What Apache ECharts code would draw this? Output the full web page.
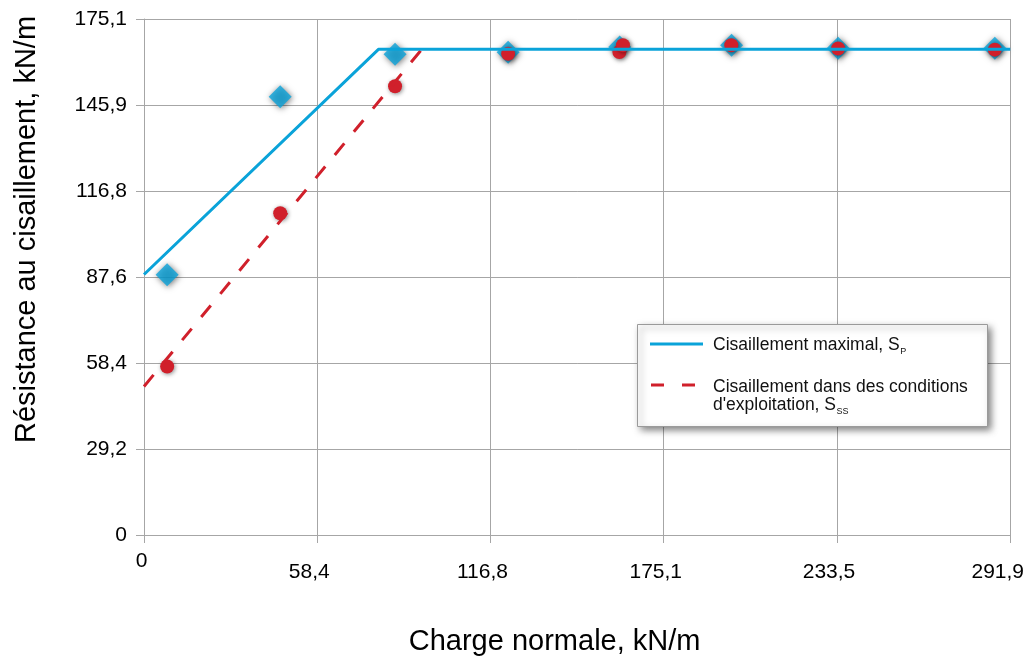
<!DOCTYPE html>
<html>
<head>
<meta charset="utf-8">
<script src="https://cdn.jsdelivr.net/npm/echarts@6/dist/echarts.min.js"></script>
<style>
  html, body { margin: 0; padding: 0; background: #fff; }
  #chart { width: 1027px; height: 661px; }
</style>
</head>
<body>
<div id="chart"></div>
<script>
// Axis tick labels (kN/m)
const xTickLabels = ['0', '58,4', '116,8', '175,1', '233,5', '291,9'];
const yTickLabels = ['0', '29,2', '58,4', '87,6', '116,8', '145,9', '175,1'];

// Axis extents (kN/m)
const xMax = 291.9;
const yMax = 175.1;

// Measured shear resistance, peak (S_P) : [normal load, shear]
const peakPoints = [
  [7.8, 88.3], [45.9, 148.7], [84.6, 163.1], [122.7, 163.8],
  [160.3, 165.6], [198.0, 166.2], [233.9, 165.2], [286.7, 165.2]
];

// Measured shear resistance, serviceability (S_SS) : [normal load, shear]
const servicePoints = [
  [7.8, 57.2], [45.9, 109.2], [84.6, 152.3], [122.7, 163.3],
  [160.2, 163.9], [161.4, 166.2], [197.9, 166.2], [233.9, 165.1], [286.7, 164.7]
];

// Design envelopes (the serviceability line joins the peak plateau at its corner)
const peakEnvelope = [[0, 88.4], [79.0, 164.8], [291.9, 164.8]];
const serviceEnvelope = [[0, 50.4], [93.6, 164.8]];

const peakName = 'Cisaillement maximal, SP';
const serviceName = "Cisaillement dans des conditions d'exploitation, SSS";

const BLUE = '#0aa3d9';
const RED = '#d0202b';
const GRID = '#a6a6a6';
const TEXT = '#000';
const FONT = "'Liberation Sans', Arial, Helvetica, sans-serif";

const chart = echarts.init(document.getElementById('chart'), null, { renderer: 'canvas' });

// Legend box drawn with graphic elements so the two-line entry lines up with its key
const legendBox = { x: 637, y: 324, w: 350, h: 102 };
const legendFont = 17.5;
const subFont = 9;

function legendText(x, y, rich) {
  return {
    type: 'text',
    x: x,
    y: y,
    z: 101,
    silent: true,
    style: {
      text: rich,
      fontFamily: FONT,
      fontSize: legendFont,
      fill: '#111',
      verticalAlign: 'middle',
      align: 'left',
      rich: {
        a: { fontFamily: FONT, fontSize: legendFont, fill: '#111', color: '#111' },
        s: { fontFamily: FONT, fontSize: subFont, fill: '#111', color: '#111', verticalAlign: 'top', lineHeight: 10, padding: [11, 0, 0, 0.5] }
      }
    }
  };
}

chart.setOption({
  backgroundColor: '#ffffff',
  animation: false,
  textStyle: { fontFamily: FONT },
  grid: { left: 144, right: 16, top: 19, bottom: 122, containLabel: false },
  xAxis: {
    type: 'value',
    min: 0,
    max: xMax,
    interval: xMax / 5,
    name: 'Charge normale, kN/m',
    nameLocation: 'middle',
    nameGap: 92,
    nameTextStyle: { fontFamily: FONT, fontSize: 29, color: TEXT, padding: [0, 45, 0, 0] },
    axisLine: { show: true, lineStyle: { color: GRID, width: 1 } },
    axisTick: { show: true, length: 8, lineStyle: { color: GRID, width: 1 } },
    splitLine: { show: true, lineStyle: { color: GRID, width: 1 } },
    axisLabel: {
      margin: 16,
      fontFamily: FONT,
      fontSize: 21,
      color: TEXT,
      formatter: function (value, index) {
        const t = xTickLabels[index] !== undefined ? xTickLabels[index] : '';
        if (index === 0) return '{z|' + t + '}';
        if (index === xTickLabels.length - 1) return '{e|' + t + '}';
        return '{n|' + t + '}';
      },
      rich: {
        z: { fontFamily: FONT, fontSize: 21, color: TEXT, padding: [0, 5, 0, 0] },
        n: { fontFamily: FONT, fontSize: 21, color: TEXT, padding: [11, 16, 0, 0] },
        e: { fontFamily: FONT, fontSize: 21, color: TEXT, padding: [11, 25, 0, 0] }
      }
    }
  },
  yAxis: {
    type: 'value',
    min: 0,
    max: yMax,
    interval: yMax / 6,
    name: 'Résistance au cisaillement, kN/m',
    nameLocation: 'middle',
    nameGap: 103,
    nameTextStyle: { fontFamily: FONT, fontSize: 29, color: TEXT, padding: [0, 0, 0, 95] },
    axisLine: { show: true, lineStyle: { color: GRID, width: 1 } },
    axisTick: { show: true, length: 8, lineStyle: { color: GRID, width: 1 } },
    splitLine: { show: true, lineStyle: { color: GRID, width: 1 } },
    axisLabel: {
      margin: 17,
      fontFamily: FONT,
      fontSize: 21,
      color: TEXT,
      formatter: function (value, index) {
        return yTickLabels[index] !== undefined ? yTickLabels[index] : '';
      }
    }
  },
  legend: { show: false },
  graphic: [
    {
      type: 'rect',
      z: 100,
      silent: true,
      shape: { x: legendBox.x + 0.5, y: legendBox.y + 0.5, width: legendBox.w, height: legendBox.h },
      style: {
        fill: '#ffffff',
        stroke: '#9a9a9a',
        lineWidth: 1,
        shadowBlur: 7,
        shadowColor: 'rgba(0,0,0,0.5)',
        shadowOffsetX: 3,
        shadowOffsetY: 3
      }
    },
    {
      type: 'line',
      z: 101,
      silent: true,
      shape: { x1: legendBox.x + 13, y1: 344, x2: legendBox.x + 66, y2: 344 },
      style: { stroke: BLUE, lineWidth: 3 }
    },
    {
      type: 'line',
      z: 101,
      silent: true,
      shape: { x1: legendBox.x + 14, y1: 385, x2: legendBox.x + 62, y2: 385 },
      style: { stroke: RED, lineWidth: 3, lineDash: [13, 18] }
    },
    legendText(legendBox.x + 76, 345, '{a|Cisaillement maximal, S}{s|P}'),
    legendText(legendBox.x + 76, 387, '{a|Cisaillement dans des conditions}'),
    legendText(legendBox.x + 76, 405.5, "{a|d'exploitation, S}{s|SS}")
  ],
  series: [
    {
      name: serviceName,
      type: 'line',
      data: serviceEnvelope,
      symbol: 'none',
      silent: true,
      color: RED,
      lineStyle: { color: RED, width: 3, type: [15, 15] }
    },
    {
      name: peakName,
      type: 'line',
      data: peakEnvelope,
      symbol: 'none',
      silent: true,
      color: BLUE,
      lineStyle: { color: BLUE, width: 3, type: 'solid' }
    },
    {
      name: 'peak-points',
      type: 'scatter',
      data: peakPoints,
      symbol: 'diamond',
      symbolSize: 23,
      silent: true,
      itemStyle: {
        color: BLUE,
        shadowBlur: 6,
        shadowColor: 'rgba(0,0,0,0.65)',
        shadowOffsetX: 1,
        shadowOffsetY: 1
      }
    },
    {
      name: 'service-points',
      type: 'scatter',
      data: servicePoints,
      symbol: 'circle',
      symbolSize: 14,
      silent: true,
      itemStyle: {
        color: RED,
        opacity: 1,
        shadowBlur: 4,
        shadowColor: 'rgba(0,0,0,0.45)',
        shadowOffsetX: 1,
        shadowOffsetY: 1
      }
    }
  ]
});
</script>
</body>
</html>
